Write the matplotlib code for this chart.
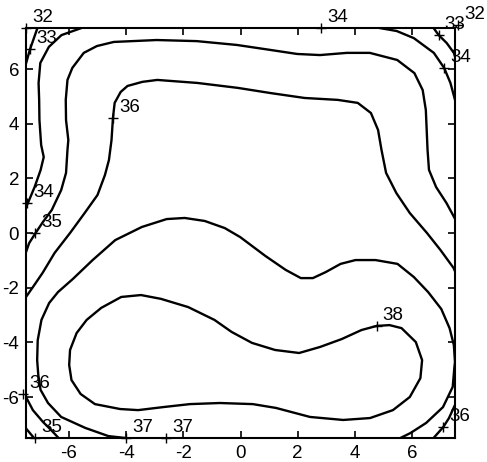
import matplotlib
matplotlib.use("Agg")
import matplotlib.pyplot as plt

plt.rcParams['font.family'] = ['Liberation Sans', 'DejaVu Sans']
plt.rcParams['axes.unicode_minus'] = False

levels = [32, 33, 34, 35, 36, 37, 38]
ticks = [-6, -4, -2, 0, 2, 4, 6]

# contour lines (x, y) in data units
c33_left = [(-7.5, 6.2), (-7.36, 6.72), (-7.1, 7.5)]
c33_right = [(6.75, 7.5), (6.93, 7.24), (7.21, 6.95), (7.46, 6.59), (7.5, 6.45)]

c34_left = [(-7.5, 0.95), (-7.42, 1.13), (-7.2, 1.68), (-6.99, 2.30), (-6.88, 2.78),
            (-6.97, 3.22), (-7.03, 4.13), (-7.04, 4.87), (-7.06, 5.49), (-7.0, 6.22),
            (-6.70, 6.81), (-6.26, 7.24), (-5.56, 7.5)]
c34_right = [(4.86, 7.5), (5.46, 7.39), (6.06, 7.13), (6.76, 6.59), (7.12, 6.04),
             (7.34, 5.49), (7.5, 4.87)]
c34_corner = [(-7.5, -7.15), (-7.22, -7.5)]

c35_top = [(-7.5, -0.70), (-7.39, -0.37), (-7.19, -0.04), (-6.91, 0.40), (-6.60, 0.84),
           (-6.27, 1.57), (-6.10, 2.20), (-6.05, 3.04), (-6.02, 3.40), (-6.10, 4.13),
           (-6.11, 4.87), (-6.05, 5.60), (-5.88, 6.04), (-5.48, 6.59), (-5.02, 6.84),
           (-4.43, 6.99), (-2.93, 7.06), (-1.53, 7.02), (-0.13, 6.88), (1.03, 6.70),
           (1.98, 6.55), (2.78, 6.51), (3.72, 6.59), (4.52, 6.59), (5.48, 6.33),
           (6.08, 5.85), (6.37, 5.23), (6.48, 4.50), (6.54, 3.04), (6.59, 2.31),
           (6.84, 1.68), (7.20, 1.10), (7.5, 0.52)]
c35_corner = [(-7.5, -6.0), (-7.26, -6.48), (-6.90, -6.92), (-6.62, -7.21), (-6.36, -7.5)]

c36_main = [(-7.5, -2.34), (-7.26, -1.98), (-6.92, -1.46), (-6.50, -0.73), (-5.96, 0.0),
            (-5.45, 0.73), (-5.00, 1.39), (-4.74, 2.12), (-4.60, 2.67), (-4.51, 3.40),
            (-4.46, 4.21), (-4.40, 4.76), (-4.19, 5.16), (-3.95, 5.38), (-3.43, 5.53),
            (-2.91, 5.60), (-1.51, 5.49), (-0.10, 5.31), (1.05, 5.12), (2.24, 4.94),
            (3.40, 4.87), (4.10, 4.76), (4.56, 4.39), (4.81, 3.77), (4.93, 3.04),
            (5.09, 2.20), (5.45, 1.46), (5.92, 0.73), (6.52, 0.0), (6.99, -0.62),
            (7.45, -1.28), (7.5, -1.40)]
c36_corner = [(7.5, -6.29), (7.29, -6.77), (7.09, -7.10), (6.75, -7.5)]

c37 = [(-4.02, -7.5), (-4.62, -7.43), (-5.43, -7.13), (-6.27, -6.73), (-6.73, -6.22),
       (-6.99, -5.74), (-7.07, -5.20), (-7.11, -4.65), (-7.09, -3.92), (-6.96, -3.18),
       (-6.69, -2.56), (-6.38, -2.16), (-5.86, -1.68), (-5.17, -0.99), (-4.38, -0.26),
       (-3.45, 0.22), (-2.58, 0.51), (-1.95, 0.55), (-1.25, 0.44), (-0.55, 0.18),
       (-0.01, -0.15), (0.87, -0.84), (1.58, -1.35), (2.11, -1.65), (2.53, -1.65),
       (2.98, -1.43), (3.50, -1.13), (4.02, -0.99), (4.72, -0.99), (5.49, -1.13),
       (6.06, -1.61), (6.56, -2.16), (7.02, -2.78), (7.31, -3.48), (7.46, -4.10),
       (7.5, -4.72), (7.48, -4.90), (7.42, -5.63), (7.08, -6.37), (6.49, -6.95),
       (5.94, -7.32), (5.59, -7.5)]

c38 = [(4.76, -3.40), (4.23, -3.55), (3.54, -3.88), (2.78, -4.17), (2.05, -4.39),
       (1.21, -4.28), (0.40, -4.02), (-0.31, -3.62), (-0.91, -3.18), (-1.83, -2.71),
       (-2.78, -2.41), (-3.48, -2.27), (-4.17, -2.34), (-4.87, -2.74), (-5.38, -3.18),
       (-5.73, -3.66), (-5.96, -4.28), (-5.99, -4.83), (-5.91, -5.38), (-5.59, -5.89),
       (-5.09, -6.26), (-4.21, -6.44), (-3.58, -6.48), (-2.71, -6.37), (-1.77, -6.26),
       (-0.72, -6.22), (0.43, -6.26), (1.24, -6.40), (2.43, -6.73), (3.59, -6.84),
       (4.53, -6.77), (5.33, -6.48), (5.92, -6.00), (6.29, -5.31), (6.35, -4.65),
       (6.13, -3.99), (5.63, -3.48), (5.21, -3.37), (4.76, -3.40)]

contours = {
    33: [c33_left, c33_right],
    34: [c34_left, c34_right, c34_corner],
    35: [c35_top, c35_corner],
    36: [c36_main, c36_corner],
    37: [c37],
    38: [c38],
}

# contour labels: (level, x, y) of the '+' mark
label_points = [
    (32, -7.5, 7.5), (33, -7.36, 6.72), (34, -7.45, 1.10), (35, -7.19, 0.0),
    (36, -4.46, 4.21), (34, 2.83, 7.5), (33, 6.93, 7.24), (32, 7.62, 7.62),
    (34, 7.12, 6.04), (36, -7.6, -5.9), (35, -7.17, -7.5), (37, -4.0, -7.5),
    (37, -2.59, -7.5), (38, 4.76, -3.40), (36, 7.09, -7.10),
]

fig = plt.figure(figsize=(4.87, 4.62), dpi=100)
ax = fig.add_axes([26 / 487, 24 / 462, 429 / 487, 410 / 462])

for lev in levels:
    for seg in contours.get(lev, []):
        xs = [p[0] for p in seg]
        ys = [p[1] for p in seg]
        ax.plot(xs, ys, color='black', lw=1.7, solid_capstyle='round',
                solid_joinstyle='round')

for lev, x, y in label_points:
    ax.plot([x], [y], marker='+', color='black', ms=7, mew=1.0, clip_on=False)
    ax.annotate(str(lev), (x, y), xytext=(6, 6), textcoords='offset pixels',
                fontsize=13.5, ha='left', va='baseline', annotation_clip=False)

ax.set_xlim(-7.5, 7.5)
ax.set_ylim(-7.5, 7.5)
ax.set_xticks(ticks)
ax.set_yticks(ticks)
ax.set_xticklabels([str(t) for t in ticks])
ax.set_yticklabels([str(t) for t in ticks])
ax.tick_params(direction='in', length=5, width=1.2, top=True, right=True,
               labelsize=13.5, pad=5)
for s in ax.spines.values():
    s.set_linewidth(1.5)

fig.savefig('out.png', dpi=100)
